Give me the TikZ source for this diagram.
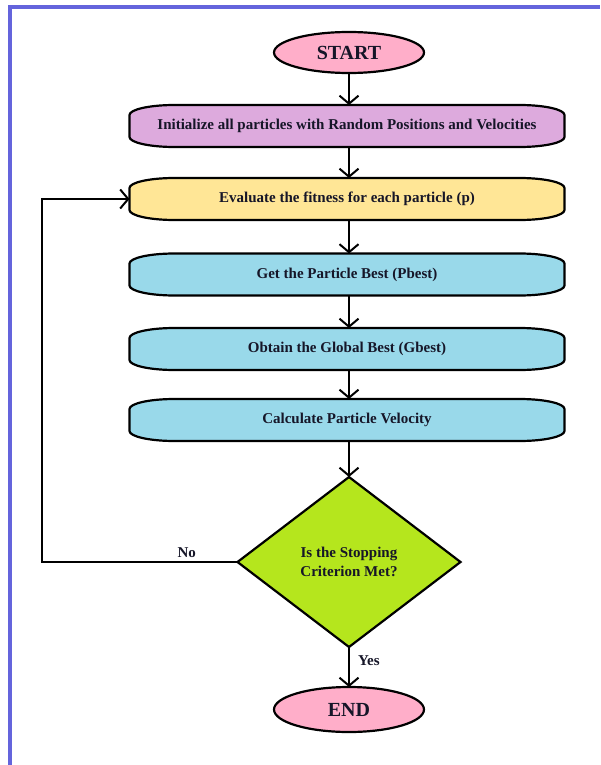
\documentclass[tikz,border=0pt]{standalone}
\usepackage{fontspec}
\setmainfont{Liberation Serif}
\usetikzlibrary{shapes.geometric,arrows.meta,backgrounds,calc}
\definecolor{bordblue}{RGB}{100,100,220}
\definecolor{rosefill}{RGB}{255,174,201}
\definecolor{purplefill}{RGB}{221,170,221}
\definecolor{yellowfill}{RGB}{255,230,150}
\definecolor{bluefill}{RGB}{153,217,234}
\definecolor{limefill}{RGB}{181,230,29}
\definecolor{inkcol}{RGB}{22,22,40}
\tikzset{
  boxtext/.style={rectangle, draw=none, inner sep=0pt, outer sep=0pt,
    minimum width=435pt, minimum height=42pt, text=inkcol,
    font=\fontsize{15}{18}\selectfont\bfseries},
  boxline/.style={draw=black, line width=2.2pt, line join=round},
  term/.style={ellipse, draw=black, line width=2.2pt, fill=rosefill,
    inner sep=0pt, outer sep=0pt, minimum width=150pt, text=inkcol,
    font=\fontsize{20}{24}\selectfont\bfseries},
  decide/.style={diamond, draw=black, line width=2.2pt, fill=limefill,
    inner sep=0pt, outer sep=0pt, minimum width=223pt, minimum height=170pt,
    align=center, text=inkcol, font=\fontsize{15}{18.5}\selectfont\bfseries},
  arr/.style={draw=black, line width=2pt,
    -{Straight Barb[length=8pt,width=19pt,line width=2pt]}},
  lbl/.style={text=inkcol, font=\fontsize{15}{18}\selectfont\bfseries, inner sep=2pt}
}
\newcommand\flowbox[4]{%
  \node[boxtext] (#1) at (347,#2) {#4};
  \begin{pgfonlayer}{background}
  \draw[boxline, fill=#3]
    ([yshift=-10pt]#1.north west) .. controls ([yshift=-4.5pt]#1.north west) and ([xshift=20pt]#1.north west) .. ([xshift=45pt]#1.north west)
    -- ([xshift=-45pt]#1.north east) .. controls ([xshift=-20pt]#1.north east) and ([yshift=-4.5pt]#1.north east) .. ([yshift=-10pt]#1.north east)
    -- ([yshift=10pt]#1.south east) .. controls ([yshift=4.5pt]#1.south east) and ([xshift=-20pt]#1.south east) .. ([xshift=-45pt]#1.south east)
    -- ([xshift=45pt]#1.south west) .. controls ([xshift=20pt]#1.south west) and ([yshift=4.5pt]#1.south west) .. ([yshift=10pt]#1.south west)
    -- cycle;
  \end{pgfonlayer}}
\begin{document}
\begin{tikzpicture}[x=1pt,y=-1pt]
\useasboundingbox (0,0) rectangle (600,765);
\begin{pgfonlayer}{background}
\fill[white] (0,0) rectangle (600,765);
\end{pgfonlayer}
% page border
\draw[bordblue, line width=4pt] (9.5,765) -- (9.5,7) -- (600,7);

\node[term, minimum height=41pt] (start) at (349,52.5) {START};
\flowbox{init}{126}{purplefill}{Initialize all particles with Random Positions and Velocities}
\flowbox{eval}{199}{yellowfill}{Evaluate the fitness for each particle (p)}
\flowbox{pbest}{274.5}{bluefill}{Get the Particle Best (Pbest)}
\flowbox{gbest}{349}{bluefill}{Obtain the Global Best (Gbest)}
\flowbox{vel}{420}{bluefill}{Calculate Particle Velocity}
\node[decide] (dec) at (349,562) {Is the Stopping\\Criterion Met?};
\node[term, minimum height=45pt] (end) at (349,709.5) {END};
\coordinate (loopx) at (42,0);

\draw[arr] (start.south) -- (start.south |- init.north);
\draw[arr] (init.south -| start) -- (eval.north -| start);
\draw[arr] (eval.south -| start) -- (pbest.north -| start);
\draw[arr] (pbest.south -| start) -- (gbest.north -| start);
\draw[arr] (gbest.south -| start) -- (vel.north -| start);
\draw[arr] (vel.south -| start) -- (dec.north);
\draw[arr] (dec.south) -- node[lbl, right, pos=0.33, xshift=6pt] {Yes} (end.north);
\draw[arr] (dec.west) -- node[lbl, above, pos=0.26, yshift=1pt] {No} (loopx |- dec.west) |- (eval.west);
\end{tikzpicture}
\end{document}
